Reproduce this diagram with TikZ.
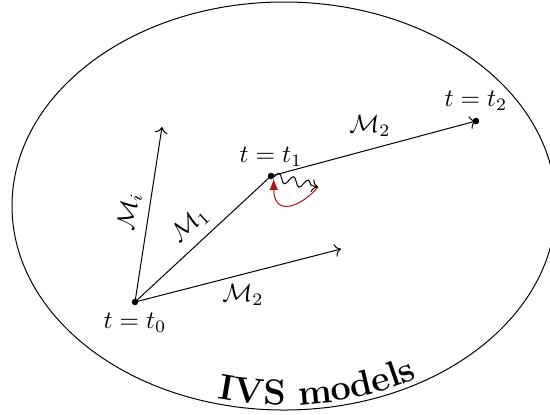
\documentclass[tikz,border=0pt]{standalone}
\usetikzlibrary{decorations.text,decorations.pathmorphing,arrows.meta}
\definecolor{darkred}{RGB}{170,20,25}
\begin{document}
\begin{tikzpicture}[x=0.4pt,y=-0.4pt,
  dot/.style={circle,fill,inner sep=0pt,minimum size=2.6pt},
  lbl/.style={inner sep=2pt}]
\useasboundingbox (0,0) rectangle (550,414);
\clip (0,0) rectangle (550,414);
\draw (284,206) ellipse [x radius=272, y radius=204];
\path[decorate,decoration={text along path, text={|\Large\bfseries|IVS models}, text align=center}]
  (284,206) ++(110:267 and 199) arc[start angle=110, end angle=54, x radius=267, y radius=199];
\node[dot] (t0) at (135,302) {};
\node[dot] (t1) at (271,176) {};
\node[dot] (t2) at (476,121) {};
\coordinate (mi) at (162,127);
\coordinate (m2) at (341,249);
\coordinate (w) at (318,187);
\node[lbl] (l0) at (135,323) {$t=t_0$};
\node[lbl] (l1) at (271,157) {$t=t_1$};
\node[lbl] (l2) at (476,101) {$t=t_2$};
\draw[->] (t0.center) -- node[midway,above,sloped]{$\mathcal{M}_i$} (mi);
\draw (t0.center) -- node[midway,above,sloped]{$\mathcal{M}_1$} (t1.center);
\draw[->] (t0.center) -- (m2);
\node[lbl] (lm2a) at (243,295) {$\mathcal{M}_2$};
\draw[->] (t1.center) -- (t2.center);
\node[lbl] (lm2b) at (370,126) {$\mathcal{M}_2$};
\draw[->,decorate,decoration={snake,amplitude=1.8pt,segment length=6pt,pre length=1pt,post length=2pt}] (t1.center) -- (w);
\draw[darkred,-{Latex[length=4.5pt,width=3.5pt]}] (w) .. controls (302,206) and (274,218) .. (t1.south east);
\end{tikzpicture}
\end{document}
